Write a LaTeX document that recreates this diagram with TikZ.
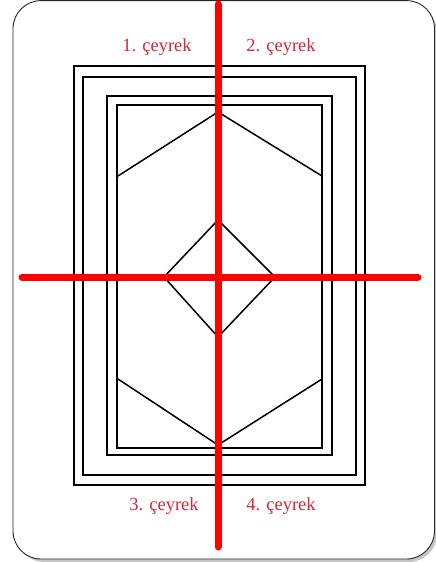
\documentclass[tikz,border=0pt]{standalone}
\usepackage{fontspec}
\setmainfont{Liberation Serif}
\definecolor{labelred}{RGB}{214,40,57}
\definecolor{framegray}{RGB}{40,40,40}
\begin{document}
\begin{tikzpicture}[x=1pt,y=-1pt,
  frame/.style={rectangle,draw=black,line width=1.8pt},
  redline/.style={draw=red,line width=7pt,line cap=round},
  pattern/.style={draw=black,line width=1.5pt},
  lbl/.style={text=labelred,font=\fontsize{18.5}{20}\selectfont,inner sep=0pt}]
\useasboundingbox (0,0) rectangle (436,562);
% shadow and outer card
\fill[gray!45,rounded corners=28pt] (16,4) rectangle (437,562);
\filldraw[fill=white,draw=framegray,line width=0.9pt,rounded corners=28pt] (13,0.6) rectangle (434.5,559);
% nested rectangles
\draw[pattern,line width=1.8pt] (74,66) rectangle (365,485);
\draw[pattern,line width=1.8pt] (83,77) rectangle (356,475);
\draw[pattern,line width=1.8pt] (107,96) rectangle (332,455);
\draw[pattern,line width=1.8pt] (117,105) rectangle (322,448);
% top chevron
\coordinate (tl) at (118,176);
\coordinate (tt) at (218,112);
\coordinate (tr) at (322,176);
\draw[pattern] (tl) -- (tt) -- (tr);
% bottom chevron
\coordinate (bl) at (118,379);
\coordinate (bb) at (218,445);
\coordinate (br) at (322,379);
\draw[pattern] (bl) -- (bb) -- (br);
% diamond
\coordinate (dt) at (218,220);
\coordinate (dr) at (275,277);
\coordinate (db) at (218,337);
\coordinate (dl) at (164,277);
\draw[pattern] (dt) -- (dr) -- (db) -- (dl) -- cycle;
% red axes
\coordinate (vtop) at (218,4);
\coordinate (vbot) at (218,547);
\coordinate (hl) at (22,277);
\coordinate (hr) at (418,277);
\draw[redline] (vtop) -- (vbot);
\draw[redline] (hl) -- (hr);
% labels
\node[lbl] (q1) at (157,47) {1. çeyrek};
\node[lbl] (q2) at (281,47) {2. çeyrek};
\node[lbl] (q3) at (164,506) {3. çeyrek};
\node[lbl] (q4) at (281,506) {4. çeyrek};
\end{tikzpicture}
\end{document}
